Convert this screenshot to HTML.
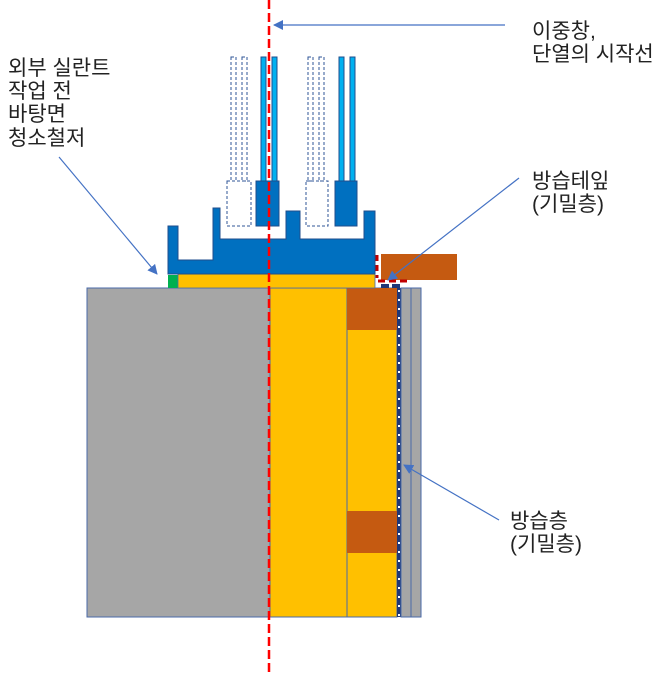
<!DOCTYPE html>
<html><head><meta charset="utf-8"><style>
body{margin:0;background:#fff;}
svg{display:block}
text{font-family:"Liberation Sans","Noto Sans CJK KR",sans-serif;font-size:21px;fill:#222;}
</style></head><body>
<svg width="661" height="674" viewBox="0 0 661 674" xmlns="http://www.w3.org/2000/svg">
<defs>
<marker id="ah" markerWidth="10" markerHeight="10" refX="9" refY="5" orient="auto" markerUnits="userSpaceOnUse">
<path d="M0,0 L10,5 L0,10 z" fill="#4472c4"/></marker>
</defs>
<rect x="87" y="288" width="183" height="329" fill="#a6a6a6" stroke="#4a6aa8" stroke-width="1"/>
<rect x="270" y="288" width="77" height="329" fill="#ffc000" stroke="#4a6aa8" stroke-width="1"/>
<rect x="347" y="288" width="50" height="329" fill="#ffc000" stroke="#4a6aa8" stroke-width="1"/>
<rect x="347" y="288" width="50" height="42" fill="#c55a11"/>
<rect x="347" y="511" width="50" height="42" fill="#c55a11"/>
<rect x="397" y="288" width="4" height="329" fill="#1f3878"/>
<line x1="399" y1="290" x2="399" y2="617" stroke="#fff" stroke-width="2" stroke-dasharray="2,7"/>
<rect x="401" y="288" width="10" height="329" fill="#a6a6a6" stroke="#4a6aa8" stroke-width="1"/>
<rect x="411" y="288" width="10" height="329" fill="#a6a6a6" stroke="#4a6aa8" stroke-width="1"/>
<rect x="381" y="284" width="8" height="4" fill="#1f3878"/><rect x="392" y="284" width="8" height="4" fill="#1f3878"/>
<rect x="168" y="275" width="10" height="13" fill="#00b050"/>
<rect x="178" y="274" width="197" height="14" fill="#ffc000" stroke="#4a6aa8" stroke-width="0.8"/>
<path d="M168,226 L178,226 L178,260 L213,260 L213,208 L220,208 L220,239 L286,239 L286,211 L300,211 L300,239 L364,239 L364,211 L375,211 L375,274 L168,274 Z" fill="#0070c0" stroke="#1f4e8c" stroke-width="1"/>
<g fill="none" stroke="#2f5597" stroke-width="1" stroke-dasharray="3,2">
<rect x="231" y="57" width="5" height="124"/><rect x="242" y="57" width="5" height="124"/>
<rect x="308" y="57" width="5" height="124"/><rect x="319" y="57" width="5" height="124"/>
<rect x="227" y="181" width="24" height="45"/><rect x="306" y="181" width="22" height="45"/>
</g>
<g fill="#00b0f0" stroke="#1f4e8c" stroke-width="1">
<rect x="261" y="57" width="5" height="124"/><rect x="272" y="57" width="5" height="124"/>
<rect x="339" y="57" width="5" height="124"/><rect x="350" y="57" width="5" height="124"/>
</g>
<rect x="256" y="181" width="23" height="45" fill="#0070c0" stroke="#1f4e8c"/>
<rect x="335" y="181" width="22" height="45" fill="#0070c0" stroke="#1f4e8c"/>
<rect x="381" y="254" width="76" height="26" fill="#c55a11"/>
<line x1="377" y1="255" x2="377" y2="278" stroke="#c00000" stroke-width="3" stroke-dasharray="6,4"/>
<line x1="378" y1="281" x2="411" y2="281" stroke="#c00000" stroke-width="3" stroke-dasharray="7,4"/>
<line x1="269" y1="0" x2="269" y2="674" stroke="#ff0000" stroke-width="2.5" stroke-dasharray="9,4"/>
<g stroke="#4472c4" stroke-width="1.2" fill="none">
<line x1="505" y1="25" x2="274" y2="25" marker-end="url(#ah)"/>
<line x1="59" y1="157" x2="157" y2="274" marker-end="url(#ah)"/>
<line x1="519" y1="178" x2="388" y2="280" marker-end="url(#ah)"/>
<line x1="499" y1="520" x2="404" y2="465" marker-end="url(#ah)"/>
</g>
<text x="8" y="75">외부 실란트</text>
<text x="8" y="98">작업 전</text>
<text x="8" y="121">바탕면</text>
<text x="8" y="145">청소철저</text>
<text x="532" y="38">이중창,</text>
<text x="532" y="61">단열의 시작선</text>
<text x="532" y="188">방습테잎</text>
<text x="532" y="211">(기밀층)</text>
<text x="510" y="528">방습층</text>
<text x="510" y="551">(기밀층)</text>
</svg>
</body></html>
